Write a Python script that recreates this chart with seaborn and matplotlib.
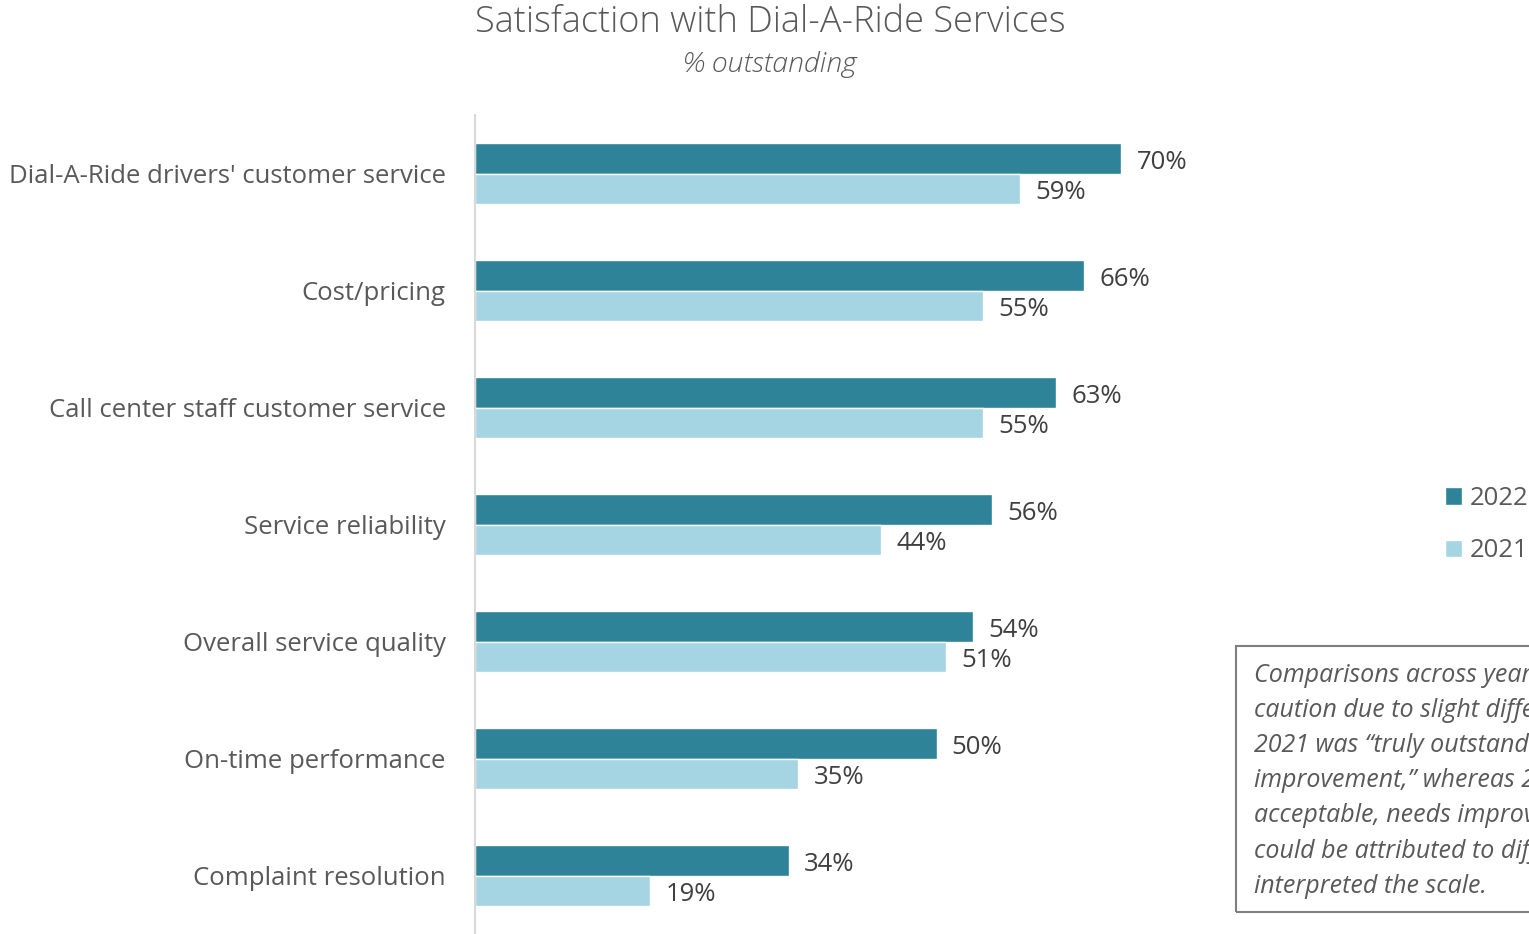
import matplotlib
matplotlib.use("Agg")
import matplotlib.pyplot as plt
from matplotlib.patches import Rectangle
import seaborn as sns
import pandas as pd

# Survey items and share rating the service "outstanding"
categories = [
    "Dial-A-Ride drivers' customer service",
    "Cost/pricing",
    "Call center staff customer service",
    "Service reliability",
    "Overall service quality",
    "On-time performance",
    "Complaint resolution",
]
values_2022 = [70, 66, 63, 56, 54, 50, 34]
values_2021 = [59, 55, 55, 44, 51, 35, 19]
years = ["2022", "2021"]
colors = ["#2E8399", "#A5D5E2"]

note_lines = [
    "Comparisons across years should be made with",
    "caution due to slight differences in the scale. The top of",
    "2021 was \u201ctruly outstanding, no room for",
    "improvement,\u201d whereas 2022 was (unacceptable,",
    "acceptable, needs improvement, outstanding). Differences",
    "could be attributed to differences in how respondents",
    "interpreted the scale.",
]

df = pd.DataFrame({
    "Item": categories * 2,
    "Percent": values_2022 + values_2021,
    "Year": [years[0]] * len(categories) + [years[1]] * len(categories),
})

sns.set_theme(style="white")
plt.rcParams["font.family"] = ["Open Sans", "DejaVu Sans"]

W, H = 1529, 934
fig = plt.figure(figsize=(W / 100, H / 100), dpi=100)
ax = fig.add_axes([475 / W, 0, (1398 - 475) / W, (H - 115) / H])

sns.barplot(data=df, x="Percent", y="Item", hue="Year", hue_order=years,
            palette=colors, orient="h", width=0.52, saturation=1,
            order=categories, ax=ax, legend=True)

ax.set_xlim(0, 100)
ax.set_ylim(len(categories) - 0.5, -0.5)
ax.set_xlabel("")
ax.set_ylabel("")
ax.set_xticks([])
for s in ["top", "right", "bottom"]:
    ax.spines[s].set_visible(False)
ax.spines["left"].set_color("#D9D9D9")
ax.spines["left"].set_linewidth(1.5)
ax.tick_params(axis="y", length=0, pad=21, labelsize=18.5, labelcolor="#595959")

# Value labels just past the end of each bar
for cont in ax.containers:
    for patch, v in zip(cont.patches, cont.datavalues):
        yc = patch.get_y() + patch.get_height() / 2
        ax.annotate(f"{v:.0f}%", xy=(patch.get_width(), yc),
                    xytext=(11, -2.8), textcoords="offset points",
                    ha="left", va="center", fontsize=18.5, color="#404040")

leg = ax.legend(loc="upper left", bbox_to_anchor=(1445 / W, 1 - 486 / H),
                bbox_transform=fig.transFigure, frameon=False,
                fontsize=18.5, labelcolor="#595959", handlelength=0.68,
                handleheight=0.68, handletextpad=0.3, labelspacing=1.07,
                borderpad=0, borderaxespad=0)

fig.text(770 / W, 1 - 22 / H, "Satisfaction with Dial-A-Ride Services",
         ha="center", va="center", fontsize=26, color="#595959",
         fontweight="light")
fig.text(770 / W, 1 - 65 / H, "% outstanding", ha="center", va="center",
         fontsize=20.5, color="#595959", style="italic", fontweight="light")

fig.patches.append(Rectangle((1236 / W, 1 - 912 / H), 400 / W, 266 / H,
                             transform=fig.transFigure, fill=False,
                             edgecolor="#7F7F7F", linewidth=1.5))
for i, line in enumerate(note_lines):
    fig.text(1254 / W, 1 - (675 + i * 35.2) / H, line, ha="left",
             va="center", fontsize=18, color="#595959", style="italic")

fig.savefig("out.png", dpi=100)
